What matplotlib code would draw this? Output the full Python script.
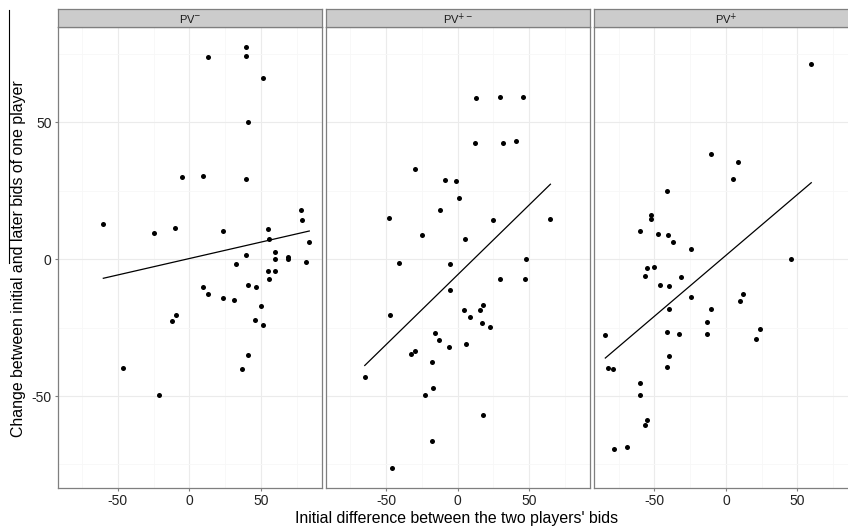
import numpy as np
import matplotlib
matplotlib.use('Agg')
import matplotlib.pyplot as plt
from matplotlib.lines import Line2D

plt.rcParams['font.family'] = ['Liberation Sans', 'DejaVu Sans']
plt.rcParams['axes.unicode_minus'] = False

# Facet labels
panel_labels = ['PV$^{-}$', 'PV$^{+-}$', 'PV$^{+}$']

# PV- panel
pv_minus_x = [-60.1, -24.5, -10.2, -5.1, 9.8, 12.9, 39.9, 39.9, 51.8, 40.8, 39.9, 23.8,
              54.8, 56.0, 77.9, 78.8, 83.9, 59.9, 39.9, 59.9, 68.8, 68.8, 32.9, 81.8,
              54.8, 59.9, 56.0, 9.8, 12.9, 40.8, 46.9, 23.8, 31.0, 49.9, -9.3, -12.3,
              45.7, 51.8, 40.8, 36.9, -46.1, -21.2]
pv_minus_y = [12.8, 9.7, 11.6, 30.0, 30.6, 73.8, 77.5, 74.2, 66.1, 50.2, 29.5, 10.3,
              11.1, 7.4, 18.0, 14.3, 6.4, 2.7, 1.5, 0.1, 1.0, 0.1, -1.6, -1.1,
              -4.2, -4.3, -7.2, -10.0, -12.6, -9.4, -10.0, -14.3, -15.0, -17.1, -20.5, -22.6,
              -22.1, -24.2, -35.1, -40.0, -39.6, -49.5]

# PV+- panel
pv_mixed_x = [12.9, 29.9, 46.0, 12.0, 32.0, 41.1, -29.9, -9.0, -1.0, 1.0, -12.0, -48.1,
              25.0, 64.9, -24.8, 5.0, -40.9, -5.0, 48.1, 29.7, 47.2, -5.0, -47.0, 4.8,
              15.9, 18.0, 9.0, 16.9, 22.9, -16.0, -12.9, -6.2, 5.9, -32.3, -29.9, -18.0,
              -64.9, -16.9, -22.9, 18.0, -17.8, -46.0]
pv_mixed_y = [59.1, 59.3, 59.3, 42.4, 42.5, 43.3, 32.9, 28.9, 28.7, 22.4, 18.0, 15.2,
              14.3, 14.7, 8.8, 7.4, -1.2, -1.8, 0.1, -7.3, -7.3, -11.3, -20.5, -18.5,
              -18.6, -16.8, -21.1, -23.2, -24.7, -26.8, -29.6, -32.1, -30.8, -34.5, -33.5, -37.5,
              -43.0, -47.0, -49.5, -57.0, -66.5, -76.4]

# PV+ panel
pv_plus_x = [59.7, -10.2, 8.7, 4.7, -41.3, -52.2, -52.2, -60.3, -47.3, -40.3, -37.3, -24.2,
             45.7, -55.5, -50.3, -56.4, -46.1, -40.1, -31.2, -24.2, -40.1, 9.6, 11.9, -10.2,
             -13.3, -13.3, -41.0, -33.1, -84.3, 23.8, 20.8, -40.1, -41.3, -82.2, -79.2, -60.3,
             -60.3, -55.2, -56.4, -78.3, -69.4]
pv_plus_y = [71.3, 38.4, 35.7, 29.2, 25.1, 16.2, 14.6, 10.5, 9.2, 9.0, 6.4, 3.9,
             0.1, -3.1, -2.7, -6.2, -9.5, -9.6, -6.4, -13.9, -18.0, -15.1, -12.8, -18.3,
             -23.0, -27.2, -26.7, -27.4, -27.7, -25.4, -29.0, -35.5, -39.5, -39.6, -40.0, -45.3,
             -49.7, -58.6, -60.5, -69.4, -68.7]

panels = [(pv_minus_x, pv_minus_y), (pv_mixed_x, pv_mixed_y), (pv_plus_x, pv_plus_y)]

W, H = 848, 529
fig = plt.figure(figsize=(W / 100, H / 100), dpi=100)

# panel geometry in pixels (third panel is cut off by the right edge)
lefts = [57.7, 326.0, 594.3]
pw = 264.3
top, bottom, strip_top = 27, 488, 9

border = '#7f7f7f'
for i, (xs, ys) in enumerate(panels):
    ax = fig.add_axes([lefts[i] / W, 1 - bottom / H, pw / W, (bottom - top) / H])
    ax.set_xlim(-92, 92.8)
    ax.set_ylim(-83.6, 84.9)
    ax.set_xticks([-50, 0, 50])
    ax.set_yticks([-50, 0, 50])
    ax.set_xticks([-75, -25, 25, 75], minor=True)
    ax.set_yticks([-75, -25, 25, 75], minor=True)
    ax.grid(which='major', color='#ebebeb', lw=0.8)
    ax.grid(which='minor', color='#f7f7f7', lw=0.6)
    ax.set_axisbelow(True)
    for s in ax.spines.values():
        s.set_color(border)
        s.set_linewidth(0.9)
    ax.tick_params(which='major', length=2.5, color=border, labelsize=10,
                   labelcolor='#222222', pad=2)
    ax.tick_params(which='minor', length=0)
    if i > 0:
        ax.tick_params(axis='y', left=False, labelleft=False)

    ax.scatter(xs, ys, s=13, color='black', zorder=3, linewidths=0)
    slope, icpt = np.polyfit(xs, ys, 1)
    xl = np.array([min(xs), max(xs)])
    ax.plot(xl, slope * xl + icpt, color='black', lw=0.9, zorder=2)

    sax = fig.add_axes([lefts[i] / W, 1 - top / H, pw / W, (top - strip_top) / H])
    sax.set_facecolor('#cccccc')
    sax.set_xticks([])
    sax.set_yticks([])
    for s in sax.spines.values():
        s.set_color(border)
        s.set_linewidth(0.9)
    sax.text(0.5, 0.45, panel_labels[i], ha='center', va='center', fontsize=8,
             color='#1a1a1a', transform=sax.transAxes)

fig.text(457 / W, 1 - 519 / H, "Initial difference between the two players' bids",
         ha='center', va='center', fontsize=11.4)
fig.text(19 / W, 1 - 259 / H, 'Change between initial and later bids of one player',
         ha='center', va='center', fontsize=11.4, rotation=90)
fig.add_artist(Line2D([9 / W, 9 / W], [1 - 10 / H, 1 - 263 / H], color='black', lw=0.8))

fig.savefig('out.png', dpi=100)
